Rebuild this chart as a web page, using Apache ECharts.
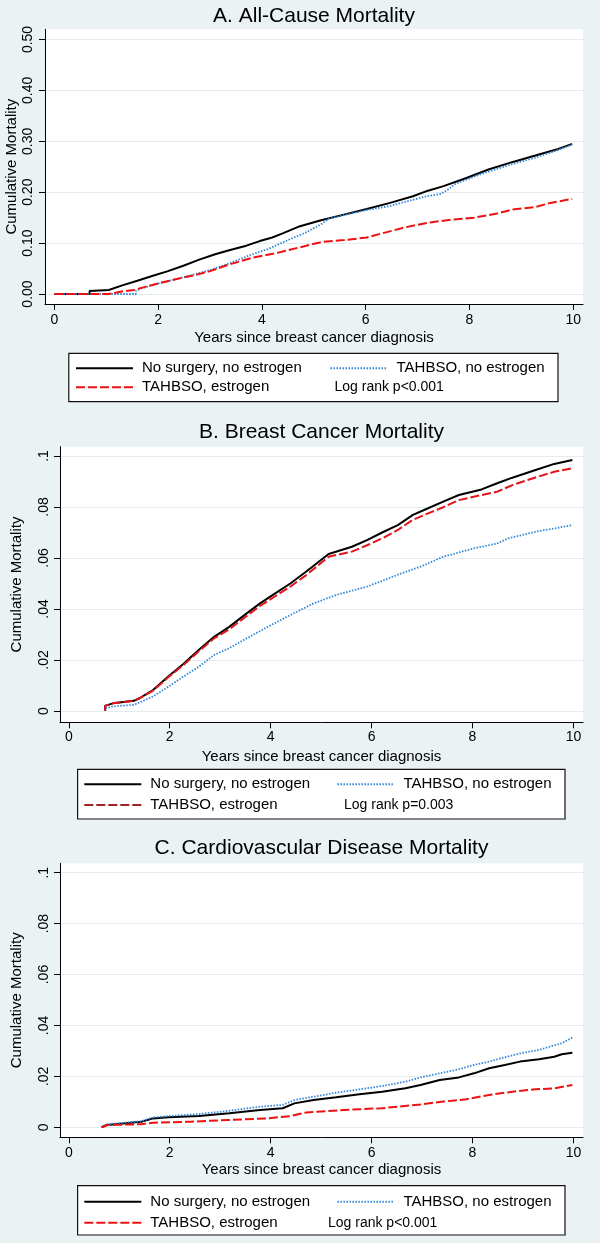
<!DOCTYPE html>
<html>
<head>
<meta charset="utf-8">
<script src="https://cdn.jsdelivr.net/npm/echarts@6/dist/echarts.min.js"></script>
<style>
html,body{margin:0;padding:0;background:#eaf2f3;}
#chart{width:600px;height:1243px;}
</style>
</head>
<body>
<div id="chart"></div>
<script>
// ---------- text / ticks ----------
const panelTitles = ['A. All-Cause Mortality', 'B. Breast Cancer Mortality', 'C. Cardiovascular Disease Mortality'];
const seriesNames = ['No surgery, no estrogen', 'TAHBSO, no estrogen', 'TAHBSO, estrogen'];
const logRankText = ['Log rank p<0.001', 'Log rank p=0.003', 'Log rank p<0.001'];
const xTitle = 'Years since breast cancer diagnosis';
const yTitle = 'Cumulative Mortality';
const xTicks = [0, 2, 4, 6, 8, 10];
const xTickLabels = ['0', '2', '4', '6', '8', '10'];
const yTicksA = [0, 0.1, 0.2, 0.3, 0.4, 0.5];
const yTickLabelsA = ['0.00', '0.10', '0.20', '0.30', '0.40', '0.50'];
const yTicksBC = [0, 0.02, 0.04, 0.06, 0.08, 0.1];
const yTickLabelsBC = ['0', '.02', '.04', '.06', '.08', '.1'];

// ---------- data: [years, cumulative mortality] ----------
// A. All-cause
const A_noSurgery = [[0,0],[0.68,0],[0.68,0.006],[1.05,0.008],[1.05,0.010],[1.31,0.017],[1.6,0.026],[1.9,0.036],[2.19,0.045],[2.5,0.056],[2.78,0.067],[3.1,0.078],[3.37,0.086],[3.7,0.095],[3.96,0.104],[4.2,0.111],[4.4,0.119],[4.7,0.132],[5.14,0.145],[5.58,0.156],[6.02,0.167],[6.47,0.179],[6.91,0.192],[7.2,0.203],[7.5,0.212],[7.94,0.228],[8.38,0.245],[8.82,0.259],[9.27,0.272],[9.71,0.285],[9.98,0.295]];
const A_tahbsoNoEst = [[0,0],[1.57,0],[1.57,0.006],[1.68,0.011],[2.05,0.022],[2.42,0.031],[2.71,0.039],[3.0,0.047],[3.37,0.060],[3.81,0.078],[4.11,0.088],[4.55,0.108],[4.85,0.121],[5.14,0.137],[5.29,0.148],[5.58,0.155],[6.02,0.165],[6.47,0.173],[6.76,0.181],[7.13,0.191],[7.45,0.197],[7.57,0.204],[7.72,0.216],[8.23,0.236],[8.82,0.255],[9.27,0.268],[9.71,0.283],[9.98,0.294]];
const A_tahbsoEst = [[0,0],[1.05,0],[1.05,0.003],[1.3,0.005],[1.53,0.008],[1.75,0.014],[2.05,0.022],[2.42,0.031],[2.71,0.037],[3.0,0.045],[3.37,0.058],[3.81,0.071],[4.26,0.080],[4.7,0.091],[5.14,0.102],[5.58,0.106],[6.02,0.111],[6.31,0.119],[6.76,0.131],[7.2,0.140],[7.64,0.146],[8.09,0.150],[8.53,0.158],[8.82,0.166],[9.27,0.171],[9.56,0.179],[9.98,0.187]];
// B. Breast cancer
const B_noSurgery = [[0.72,0],[0.72,0.002],[0.87,0.003],[1.29,0.004],[1.4,0.005],[1.67,0.0082],[1.97,0.0135],[2.27,0.0184],[2.58,0.024],[2.88,0.0291],[3.18,0.033],[3.48,0.0376],[3.79,0.0422],[4.09,0.0461],[4.39,0.050],[4.7,0.0546],[5.15,0.0616],[5.61,0.0644],[5.91,0.067],[6.21,0.070],[6.52,0.0729],[6.82,0.0769],[7.12,0.0795],[7.42,0.0821],[7.73,0.0847],[8.18,0.0869],[8.49,0.0893],[8.79,0.0915],[9.25,0.0945],[9.62,0.0969],[9.98,0.0984]];
const B_tahbsoNoEst = [[0.72,0],[0.72,0.001],[0.87,0.0018],[1.29,0.0024],[1.44,0.0037],[1.67,0.0057],[1.97,0.0095],[2.27,0.0135],[2.58,0.0174],[2.88,0.022],[3.18,0.0246],[3.48,0.028],[3.94,0.033],[4.39,0.0376],[4.85,0.0422],[5.3,0.0455],[5.91,0.0488],[6.21,0.051],[6.59,0.054],[6.97,0.0566],[7.42,0.0605],[8.03,0.0638],[8.49,0.0657],[8.71,0.0677],[9.25,0.0703],[9.62,0.0716],[9.98,0.0729]];
const B_tahbsoEst = [[0.72,0],[0.72,0.002],[0.87,0.003],[1.29,0.004],[1.4,0.005],[1.67,0.008],[1.97,0.0132],[2.27,0.018],[2.58,0.0235],[2.88,0.0285],[3.18,0.032],[3.48,0.0366],[3.79,0.0412],[4.09,0.045],[4.39,0.0488],[4.7,0.0532],[5.15,0.0605],[5.61,0.0625],[5.91,0.065],[6.21,0.0677],[6.52,0.071],[6.82,0.075],[7.12,0.0775],[7.42,0.0799],[7.73,0.0827],[8.18,0.0847],[8.49,0.086],[8.79,0.0886],[9.25,0.0916],[9.62,0.0938],[9.98,0.0952]];
// C. Cardiovascular
const C_noSurgery = [[0.65,0],[0.76,0.0009],[1.44,0.0022],[1.67,0.0035],[1.97,0.0039],[2.58,0.0044],[3.18,0.0055],[3.79,0.0068],[4.24,0.0075],[4.47,0.0094],[4.85,0.0107],[5.3,0.0118],[5.76,0.013],[6.21,0.014],[6.67,0.0153],[6.97,0.0166],[7.35,0.0186],[7.73,0.0196],[8.03,0.0212],[8.33,0.0232],[8.64,0.0245],[8.94,0.0258],[9.32,0.0267],[9.62,0.0277],[9.77,0.0287],[9.98,0.0293]];
const C_tahbsoNoEst = [[0.65,0],[0.76,0.0012],[1.44,0.0024],[1.67,0.0039],[1.97,0.0044],[2.58,0.0052],[3.18,0.0065],[3.79,0.0081],[4.24,0.0088],[4.47,0.0107],[4.85,0.012],[5.3,0.0136],[5.76,0.0149],[6.21,0.0162],[6.67,0.0179],[6.97,0.0196],[7.35,0.0212],[7.73,0.0228],[8.03,0.0245],[8.33,0.0258],[8.64,0.0275],[8.94,0.029],[9.32,0.0304],[9.62,0.0322],[9.77,0.033],[9.98,0.0353]];
const C_tahbsoEst = [[0.65,0],[0.76,0.0009],[1.44,0.0012],[1.67,0.0018],[2.42,0.0022],[3.18,0.0029],[3.94,0.0035],[4.39,0.0044],[4.7,0.0058],[5.45,0.0068],[6.21,0.0075],[6.97,0.009],[7.42,0.0101],[7.88,0.011],[8.33,0.0127],[8.79,0.014],[9.25,0.0149],[9.62,0.0153],[9.98,0.0166]];

// ---------- styling / layout ----------
const FONT = '"Liberation Sans", Arial, Helvetica, sans-serif';
const BG = '#eaf2f3';
const GRIDLINE = '#e2ebee';
const BLACK = '#000000';
const BLUE = '#2f86d9';
const RED = '#ee1111';
const DARKRED = '#9e2224';

const panels = [
  { grid: {left:45, top:29.3, width:538, height:274.7}, xMin:-0.179, xMax:10.187, yMin:-0.0196, yMax:0.52,
    yTicks:yTicksA, yLabels:yTickLabelsA, labelMargin:10, nameGapY:26, xLabelMargin:9, nameGapX:26,
    data:[A_noSurgery, A_tahbsoNoEst, A_tahbsoEst], redPlot:RED, redLegend:RED,
    title:{x:314, y:16.7},
    box:{x:68.8, y:353.3, w:489.2, h:48.4}, col1:{left:75, top:360.3, gap:3}, col2:{left:329.5}, logRank:{x:334.5, y:387.3} },
  { grid: {left:60, top:446.7, width:523, height:275.6}, xMin:-0.174, xMax:10.19, yMin:-0.00443, yMax:0.10365,
    yTicks:yTicksBC, yLabels:yTickLabelsBC, labelMargin:9, nameGapY:36, xLabelMargin:8, nameGapX:27,
    data:[B_noSurgery, B_tahbsoNoEst, B_tahbsoEst], redPlot:'#e3141a', redLegend:DARKRED,
    title:{x:321.5, y:432.3},
    box:{x:77.6, y:769.3, w:487.4, h:49.7}, col1:{left:83.3, top:776.3, gap:4.7}, col2:{left:336.4}, logRank:{x:344, y:805} },
  { grid: {left:60, top:863.3, width:523, height:274}, xMin:-0.174, xMax:10.19, yMin:-0.00393, yMax:0.1037,
    yTicks:yTicksBC, yLabels:yTickLabelsBC, labelMargin:9, nameGapY:36, xLabelMargin:9, nameGapX:25.5,
    data:[C_noSurgery, C_tahbsoNoEst, C_tahbsoEst], redPlot:RED, redLegend:RED,
    title:{x:321.5, y:848.3},
    box:{x:77.6, y:1185.7, w:487.4, h:49.3}, col1:{left:83.3, top:1193.7, gap:5}, col2:{left:336.4}, logRank:{x:328, y:1222.7} }
];

function labelFor(ticks, labels) {
  return function (v) {
    const i = ticks.findIndex(t => Math.abs(t - v) < 1e-9);
    return i >= 0 ? labels[i] : '';
  };
}

const grids = [], xAxes = [], yAxes = [], series = [], legends = [], graphics = [];

panels.forEach((p, k) => {
  grids.push(Object.assign({ show: true, backgroundColor: '#ffffff', borderWidth: 0, containLabel: false, outerBoundsMode: 'none' }, p.grid));
  xAxes.push({
    type: 'value', gridIndex: k, min: p.xMin, max: p.xMax,
    name: xTitle, nameLocation: 'middle', nameGap: p.nameGapX, nameMoveOverlap: false,
    nameTextStyle: { fontFamily: FONT, fontSize: 15, color: '#000' },
    axisLine: { show: true, onZero: false, lineStyle: { color: '#000', width: 1 } },
    axisTick: { show: true, inside: false, length: 6, customValues: xTicks, lineStyle: { color: '#000', width: 1 } },
    axisLabel: { show: true, margin: p.xLabelMargin, customValues: xTicks, formatter: labelFor(xTicks, xTickLabels),
                 fontFamily: FONT, fontSize: 14, color: '#000' },
    splitLine: { show: false }
  });
  yAxes.push({
    type: 'value', gridIndex: k, min: p.yMin, max: p.yMax,
    name: yTitle, nameLocation: 'middle', nameGap: p.nameGapY, nameRotate: 90, nameMoveOverlap: false,
    nameTextStyle: { fontFamily: FONT, fontSize: 15, color: '#000' },
    axisLine: { show: true, onZero: false, lineStyle: { color: '#000', width: 1 } },
    axisTick: { show: true, inside: false, length: 6, customValues: p.yTicks, lineStyle: { color: '#000', width: 1 } },
    axisLabel: { show: true, rotate: 90, margin: p.labelMargin, customValues: p.yTicks, formatter: labelFor(p.yTicks, p.yLabels),
                 fontFamily: FONT, fontSize: 14, color: '#000' },
    splitLine: { show: true, lineStyle: { color: GRIDLINE, width: 1 } }
  });
  const styles = [
    { color: BLACK, width: 2, type: 'solid' },
    { color: BLUE, width: 1.8, type: [1.5, 1.5] },
    { color: p.redPlot, width: 2, type: [9, 3] }
  ];
  seriesNames.forEach((nm, j) => {
    series.push({
      type: 'line', name: nm, xAxisIndex: k, yAxisIndex: k, data: p.data[j],
      symbol: 'none', showSymbol: false, silent: true, animation: false, z: 3 + j,
      lineStyle: styles[j], itemStyle: { color: styles[j].color },
      emphasis: { disabled: true }
    });
  });
  const legendCommon = {
    orient: 'vertical', selectedMode: false, itemWidth: 57, itemHeight: 16, z: 10,
    itemStyle: { opacity: 0 },
    textStyle: { fontFamily: FONT, fontSize: 15, color: '#000', lineHeight: 16, padding: [0, 0, 0, 4] },
    padding: 0
  };
  legends.push(Object.assign({}, legendCommon, {
    left: p.col1.left, top: p.col1.top, itemGap: p.col1.gap,
    data: [ { name: seriesNames[0] }, { name: seriesNames[2], lineStyle: { color: p.redLegend, width: 2, type: [9, 3] } } ]
  }));
  legends.push(Object.assign({}, legendCommon, {
    left: p.col2.left, top: p.col1.top,
    data: [ { name: seriesNames[1] } ]
  }));
  graphics.push({
    type: 'text', x: p.title.x, y: p.title.y, z: 10,
    style: { text: panelTitles[k], fontFamily: FONT, fontSize: 21, fill: '#000', align: 'center', verticalAlign: 'middle' }
  });
  graphics.push({
    type: 'rect', z: 1, shape: { x: p.box.x, y: p.box.y, width: p.box.w, height: p.box.h },
    style: { fill: '#ffffff', stroke: '#111', lineWidth: 1.2 }
  });
  graphics.push({
    type: 'text', x: p.logRank.x, y: p.logRank.y, z: 10,
    style: { text: logRankText[k], fontFamily: FONT, fontSize: 14, fill: '#000', align: 'left', verticalAlign: 'middle' }
  });
});

const chart = echarts.init(document.getElementById('chart'), null, { renderer: 'canvas' });
chart.setOption({
  backgroundColor: BG,
  animation: false,
  grid: grids,
  xAxis: xAxes,
  yAxis: yAxes,
  legend: legends,
  series: series,
  graphic: graphics
});
</script>
</body>
</html>
